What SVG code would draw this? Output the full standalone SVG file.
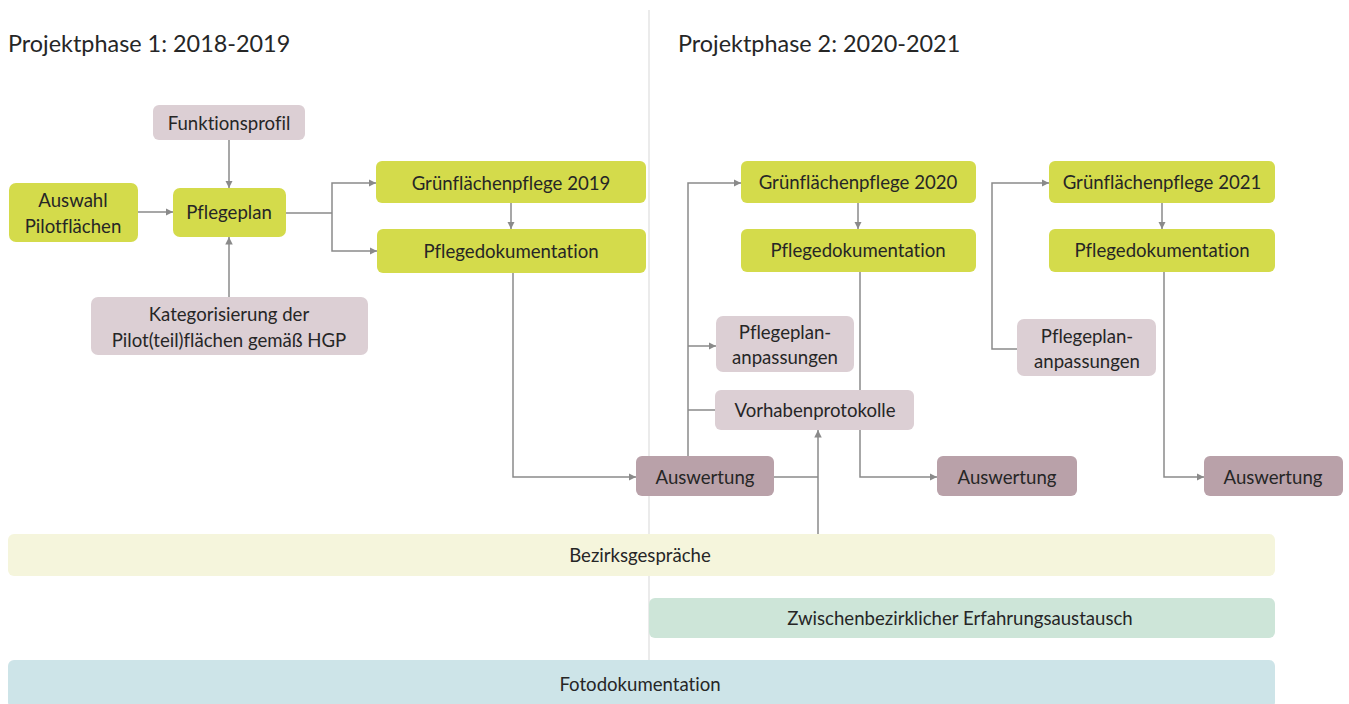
<svg xmlns="http://www.w3.org/2000/svg" width="1349" height="704" viewBox="0 0 1349 704">
  <style>
    text { font-family: Lato, "Open Sans", "Liberation Sans", sans-serif; fill: #262626; text-anchor: middle; dominant-baseline: central; font-size: 18.6px; font-variant-ligatures: none; }
    .title { font-size: 23.4px; text-anchor: start; }
    .green { fill: #d4db4b; }
    .pale { fill: #dccfd4; }
    .mauve { fill: #b9a1a9; }
    .line { fill: none; stroke: #8a8a8a; stroke-width: 1.5; }
    .arr { fill: none; stroke: #8a8a8a; stroke-width: 1.5; marker-end: url(#ah); }
  </style>
  <defs>
    <marker id="ah" viewBox="0 0 10 10" refX="10" refY="5" markerWidth="5" markerHeight="5" orient="auto" markerUnits="strokeWidth">
      <path d="M0,0 L10,5 L0,10 z" fill="#8a8a8a"/>
    </marker>
  </defs>

  <rect width="1349" height="704" fill="#ffffff"/>

  <!-- phase divider -->
  <line x1="649" y1="10" x2="649" y2="704" stroke="#e4e4e4" stroke-width="1.5"/>

  <text class="title" x="8" y="43">Projektphase 1: 2018-2019</text>
  <text class="title" x="678" y="43">Projektphase 2: 2020-2021</text>

  <!-- bands -->
  <g id="bezirksgespraeche">
    <rect x="8" y="534" width="1267" height="42" rx="6" fill="#f5f5dc"/>
    <text x="640" y="555">Bezirksgespräche</text>
  </g>
  <g id="erfahrungsaustausch">
    <rect x="649" y="598" width="626" height="40" rx="6" fill="#cde5d8"/>
    <text x="960" y="618">Zwischenbezirklicher Erfahrungsaustausch</text>
  </g>
  <g id="fotodokumentation">
    <rect x="8" y="660" width="1267" height="48" rx="6" fill="#cde4e8"/>
    <text x="640" y="684">Fotodokumentation</text>
  </g>

  <!-- connectors -->
  <g id="connectors">
    <path class="arr" d="M229,140 V188"/>
    <path class="arr" d="M229,297 V237"/>
    <path class="arr" d="M138,212 H173"/>
    <path class="line" d="M286,213 H332"/>
    <path class="arr" d="M332,213 V183 H376"/>
    <path class="arr" d="M332,213 V251 H377"/>
    <path class="arr" d="M511,203 V229"/>
    <path class="arr" d="M513,273 V477 H636"/>
    <path class="arr" d="M688,456 V183 H741"/>
    <path class="arr" d="M688,346 H716"/>
    <path class="line" d="M688,410 H715"/>
    <path class="line" d="M774,477 H818"/>
    <path class="arr" d="M818,534 V430"/>
    <path class="arr" d="M858,203 V229"/>
    <path class="arr" d="M860,272 V477 H937"/>
    <path class="arr" d="M1017,349 H992 V183 H1049"/>
    <path class="arr" d="M1162,203 V229"/>
    <path class="arr" d="M1164,272 V477 H1204"/>
  </g>

  <!-- phase 1 nodes -->
  <g id="funktionsprofil">
    <rect class="pale" x="153" y="105" width="152" height="35" rx="6"/>
    <text x="229" y="123">Funktionsprofil</text>
  </g>
  <g id="auswahl">
    <rect class="green" x="9" y="183" width="129" height="59" rx="7"/>
    <text x="73" y="200">Auswahl</text>
    <text x="73" y="226">Pilotflächen</text>
  </g>
  <g id="pflegeplan">
    <rect class="green" x="173" y="188" width="113" height="49" rx="7"/>
    <text x="229" y="212">Pflegeplan</text>
  </g>
  <g id="kategorisierung">
    <rect class="pale" x="91" y="297" width="277" height="58" rx="7"/>
    <text x="229" y="314">Kategorisierung der</text>
    <text x="229" y="340">Pilot(teil)flächen gemäß HGP</text>
  </g>
  <g id="gruen2019">
    <rect class="green" x="376" y="161" width="270" height="42" rx="6"/>
    <text x="511" y="183">Grünflächenpflege 2019</text>
  </g>
  <g id="doku2019">
    <rect class="green" x="377" y="229" width="269" height="44" rx="6"/>
    <text x="511" y="251">Pflegedokumentation</text>
  </g>
  <g id="auswertung1">
    <rect class="mauve" x="636" y="456" width="138" height="40" rx="6"/>
    <text x="705" y="477">Auswertung</text>
  </g>

  <!-- phase 2: 2020 -->
  <g id="gruen2020">
    <rect class="green" x="741" y="161" width="235" height="42" rx="6"/>
    <text x="858" y="182">Grünflächenpflege 2020</text>
  </g>
  <g id="doku2020">
    <rect class="green" x="741" y="229" width="235" height="43" rx="6"/>
    <text x="858" y="250">Pflegedokumentation</text>
  </g>
  <g id="anpassungen2020">
    <rect class="pale" x="716" y="316" width="138" height="56" rx="7"/>
    <text x="785" y="332">Pflegeplan-</text>
    <text x="785" y="357">anpassungen</text>
  </g>
  <g id="vorhabenprotokolle">
    <rect class="pale" x="715" y="390" width="199" height="40" rx="6"/>
    <text x="815" y="410">Vorhabenprotokolle</text>
  </g>
  <g id="auswertung2">
    <rect class="mauve" x="937" y="456" width="140" height="40" rx="6"/>
    <text x="1007" y="477">Auswertung</text>
  </g>

  <!-- phase 2: 2021 -->
  <g id="gruen2021">
    <rect class="green" x="1049" y="161" width="226" height="42" rx="6"/>
    <text x="1162" y="182">Grünflächenpflege 2021</text>
  </g>
  <g id="doku2021">
    <rect class="green" x="1049" y="229" width="226" height="43" rx="6"/>
    <text x="1162" y="250">Pflegedokumentation</text>
  </g>
  <g id="anpassungen2021">
    <rect class="pale" x="1017" y="319" width="139" height="57" rx="7"/>
    <text x="1087" y="336">Pflegeplan-</text>
    <text x="1087" y="361">anpassungen</text>
  </g>
  <g id="auswertung3">
    <rect class="mauve" x="1204" y="456" width="139" height="40" rx="6"/>
    <text x="1273" y="477">Auswertung</text>
  </g>
</svg>
